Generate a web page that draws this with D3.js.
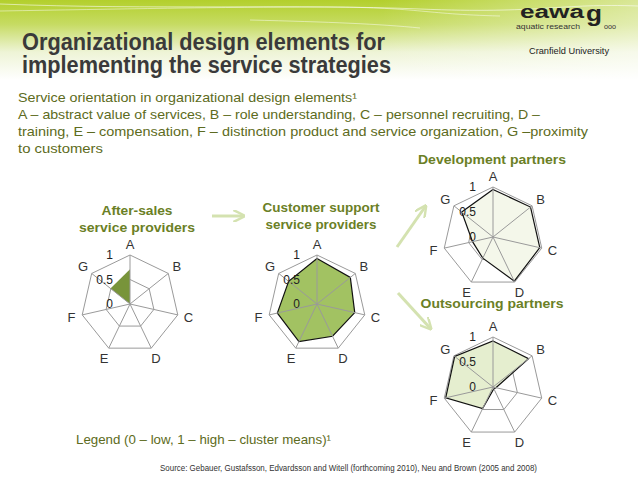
<!DOCTYPE html>
<html>
<head>
<meta charset="utf-8">
<script src="https://d3js.org/d3.v7.min.js"></script>
<style>
  body { margin: 0; background: #fff; }
  svg text { font-family: Arial, "Liberation Sans", sans-serif; }
</style>
</head>
<body>
<div id="chart"></div>
<script>
// axes of every radar (design elements)
var axes = ["A", "B", "C", "D", "E", "F", "G"];
var ticks = [0, 0.5, 1];

// cluster means per group, order A..G
var afterSales      = [0.71, 0, 0, 0, 0, 0, 0.51];
var customerSupport = [0.93, 0.87, 0.79, 0.73, 0.85, 0.83, 0.74];
var development     = [0.95, 0.96, 0.96, 0.98, 0.47, 0.42, 0.80];
var outsourcing     = [0.92, 0.91, 0.06, 0.04, 0.48, 0.97, 0.98];

var titleLines = ["Organizational design elements for", "implementing the service strategies"];
var introLines = [
  "Service orientation in organizational design elements\u00b9",
  "A \u2013 abstract value of services, B \u2013 role understanding, C \u2013 personnel recruiting, D \u2013",
  "training, E \u2013 compensation, F \u2013 distinction product and service organization, G \u2013proximity",
  "to customers"
];

var width = 638, height = 479;
var olive = "#5d6b21", titleGreen = "#6b7f26";

var svg = d3.select("#chart").append("svg")
  .attr("width", width)
  .attr("height", height);

// header background
var defs = svg.append("defs");
var grad = defs.append("linearGradient").attr("id", "hdr")
  .attr("x1", 0).attr("y1", 0).attr("x2", 0).attr("y2", 1);
grad.append("stop").attr("offset", "0%").attr("stop-color", "#b3cf2c");
grad.append("stop").attr("offset", "30%").attr("stop-color", "#c6db62");
grad.append("stop").attr("offset", "65%").attr("stop-color", "#eef4d6");
grad.append("stop").attr("offset", "100%").attr("stop-color", "#ffffff");
svg.append("rect").attr("width", width).attr("height", 80).attr("fill", "url(#hdr)");

var sideGrad = defs.append("linearGradient").attr("id", "side")
  .attr("x1", 0).attr("y1", 0).attr("x2", 1).attr("y2", 0);
sideGrad.append("stop").attr("offset", "0%").attr("stop-color", "#fff").attr("stop-opacity", 0);
sideGrad.append("stop").attr("offset", "100%").attr("stop-color", "#fff").attr("stop-opacity", 0.5);
svg.append("rect").attr("x", 380).attr("width", 258).attr("height", 80).attr("fill", "url(#side)");

svg.append("path").attr("d", "M0,4 C150,10 300,4 420,9 S560,3 638,6")
  .attr("fill", "none").attr("stroke", "#fff").attr("stroke-opacity", 0.7).attr("stroke-width", 0.8);
svg.append("path").attr("d", "M0,11 C120,9 220,7 320,7 S420,14 500,16")
  .attr("fill", "none").attr("stroke", "#fff").attr("stroke-opacity", 0.6).attr("stroke-width", 0.8);
svg.append("path").attr("d", "M250,20 C330,22 380,24 420,28")
  .attr("fill", "none").attr("stroke", "#fff").attr("stroke-opacity", 0.6).attr("stroke-width", 0.8);

function fitText(g, str, x, y, len, opts) {
  var t = g.append("text").attr("x", x).attr("y", y).text(str);
  if (len) t.attr("textLength", len).attr("lengthAdjust", "spacingAndGlyphs");
  for (var k in opts) t.style(k, opts[k]);
  return t;
}

// title
fitText(svg, titleLines[0], 22, 50, 363, {"font-size": "23px", "font-weight": "bold", "fill": "#3a3a3a"});
fitText(svg, titleLines[1], 22, 73, 369, {"font-size": "23px", "font-weight": "bold", "fill": "#3a3a3a"});

// logos
fitText(svg, "eawa", 520, 18, 64, {"font-size": "18px", "font-weight": "bold", "fill": "#222"});
fitText(svg, "g", 586, 21, 16, {"font-size": "22px", "font-weight": "bold", "fill": "#222"});
fitText(svg, "aquatic research", 516, 29, 64, {"font-size": "6.5px", "fill": "#333"});
fitText(svg, "ooo", 604, 29, 12, {"font-size": "6.5px", "fill": "#333"});
fitText(svg, "Cranfield University", 529, 54, 80, {"font-size": "9px", "fill": "#222"});

// intro text
var introLens = [339, 522, 570, 85];
introLines.forEach(function(s, i) {
  fitText(svg, s, 18, 101.5 + i * 17, introLens[i], {"font-size": "13px", "fill": olive});
});

// arrows
var arrowCol = "#d4e2b0";
defs.append("marker").attr("id", "arr")
  .attr("viewBox", "0 0 10 10").attr("refX", 8).attr("refY", 5)
  .attr("markerWidth", 4).attr("markerHeight", 4).attr("orient", "auto")
  .append("path").attr("d", "M0,0 L10,5 L0,10").attr("fill", "none")
  .attr("stroke", arrowCol).attr("stroke-width", 2);
var arrows = [[212, 216, 243, 216], [397, 247, 425, 207], [398, 293, 430, 328]];
arrows.forEach(function(a) {
  svg.append("line").attr("x1", a[0]).attr("y1", a[1]).attr("x2", a[2]).attr("y2", a[3])
    .attr("stroke", arrowCol).attr("stroke-width", 3).attr("marker-end", "url(#arr)");
});

// radar charts
var angle = d3.scalePoint().domain(axes).range([0, 2 * Math.PI * 6 / 7]);

function radar(cfg) {
  var r = d3.scaleLinear().domain([0, 1]).range([0, cfg.radius]);
  var g = svg.append("g").attr("transform", "translate(" + cfg.cx + "," + cfg.cy + ")");
  var pt = function(a, v) {
    return [Math.sin(angle(a)) * r(v), -Math.cos(angle(a)) * r(v)];
  };

  // grid
  [0.5, 1].forEach(function(t) {
    g.append("path")
      .attr("d", d3.line().curve(d3.curveLinearClosed)(axes.map(function(a) { return pt(a, t); })))
      .attr("fill", "none").attr("stroke", "#9a9a9a").attr("stroke-width", 1);
  });

  // data polygon
  var line = d3.lineRadial()
    .angle(function(d, i) { return angle(axes[i]); })
    .radius(function(d) { return r(d); })
    .curve(d3.curveLinearClosed);
  g.append("path").attr("d", line(cfg.values))
    .attr("fill", cfg.fill)
    .attr("stroke", cfg.stroke).attr("stroke-width", 1.2);

  // spokes
  axes.forEach(function(a) {
    var p = pt(a, 1);
    g.append("line").attr("x1", 0).attr("y1", 0).attr("x2", p[0]).attr("y2", p[1])
      .attr("stroke", "#9a9a9a").attr("stroke-width", 1);
  });

  // axis letters
  axes.forEach(function(a) {
    var rr = cfg.radius + 11;
    g.append("text")
      .attr("x", Math.sin(angle(a)) * rr)
      .attr("y", -Math.cos(angle(a)) * rr)
      .attr("dy", "0.36em")
      .attr("text-anchor", "middle")
      .style("font-size", "13px").style("fill", "#333")
      .text(a);
  });

  // tick labels
  ticks.forEach(function(t) {
    g.append("text")
      .attr("x", -17).attr("y", -r(t) + 4)
      .attr("text-anchor", "end")
      .style("font-size", "12px").style("fill", "#222")
      .text(t);
  });

  // title
  cfg.title.forEach(function(s, i) {
    svg.append("text")
      .attr("x", cfg.tx).attr("y", cfg.ty + i * 17)
      .attr("text-anchor", "middle")
      .attr("textLength", cfg.tlen[i]).attr("lengthAdjust", "spacingAndGlyphs")
      .style("font-size", "13.5px").style("font-weight", "bold").style("fill", titleGreen)
      .text(s);
  });
}

radar({cx: 130, cy: 304, radius: 49, values: afterSales, fill: "#78943a", stroke: "none",
  title: ["After-sales", "service providers"], tx: 137, ty: 215, tlen: [71, 116]});
radar({cx: 317, cy: 304, radius: 49, values: customerSupport, fill: "#a2c262", stroke: "#111",
  title: ["Customer support", "service providers"], tx: 321, ty: 212, tlen: [117, 111]});
radar({cx: 493, cy: 237, radius: 50, values: development, fill: "#f4f7ea", stroke: "#111",
  title: ["Development partners"], tx: 492, ty: 164, tlen: [148]});
radar({cx: 493, cy: 387, radius: 50, values: outsourcing, fill: "#e5eecf", stroke: "#111",
  title: ["Outsourcing partners"], tx: 492, ty: 308, tlen: [143]});

// legend + source
fitText(svg, "Legend (0 \u2013 low, 1 \u2013 high \u2013 cluster means)\u00b9", 76, 444, 255, {"font-size": "13px", "fill": olive});
fitText(svg, "Source: Gebauer, Gustafsson, Edvardsson and Witell (forthcoming 2010), Neu and Brown (2005 and 2008)",
  160, 471, 377, {"font-size": "8.5px", "fill": "#333"});
</script>
</body>
</html>
